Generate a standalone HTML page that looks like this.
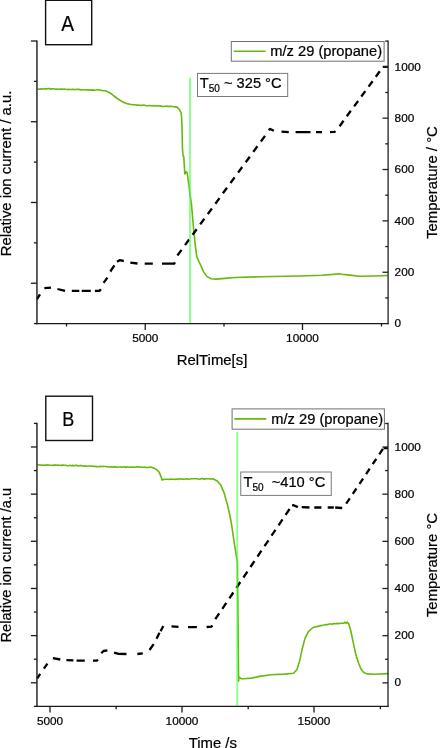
<!DOCTYPE html>
<html lang="en"><head><meta charset="utf-8"><title>Figure</title>
<style>html,body{margin:0;padding:0;background:#fff}body{width:440px;height:748px;overflow:hidden}</style></head>
<body>
<svg width="440" height="748" viewBox="0 0 440 748" style="display:block">
<rect width="440" height="748" fill="#fff"/>
<g font-family="'Liberation Sans', sans-serif" fill="#000" stroke="#000" stroke-width="0.22">
<polyline points="37.5,89.3 39.0,89.0 40.5,89.1 42.0,88.9 43.5,89.0 45.0,88.8 46.5,88.9 48.0,88.6 49.5,88.6 51.0,89.1 52.5,88.8 54.0,88.8 55.5,89.3 57.0,89.0 58.5,89.3 60.0,89.1 61.4,89.1 62.9,89.3 64.3,89.0 65.7,89.3 67.1,89.5 68.6,89.3 70.0,89.5 71.4,89.5 72.9,89.2 74.3,89.6 75.7,89.5 77.1,89.4 78.6,89.3 80.0,89.6 81.4,89.9 82.9,89.7 84.3,89.8 85.7,90.0 87.1,89.9 88.6,90.1 90.0,89.8 91.4,90.1 92.9,89.9 94.3,90.2 95.7,90.2 97.1,89.8 98.6,89.8 100.0,90.1 101.5,90.2 103.0,90.8 104.5,90.7 106.0,91.0 108.0,92.1 110.0,93.0 112.0,94.4 114.0,96.0 116.0,97.5 118.0,99.0 120.0,100.2 122.0,101.6 124.0,102.4 126.0,103.3 128.0,103.9 130.0,104.3 131.6,104.5 133.2,104.8 134.8,104.8 136.4,105.1 138.0,105.0 139.5,105.3 141.0,105.4 142.5,105.3 144.0,105.1 145.5,105.6 147.0,105.7 148.5,105.8 150.0,105.6 151.5,105.7 153.0,105.9 154.5,105.6 156.0,106.1 157.5,106.0 159.0,105.9 160.5,105.8 162.0,106.4 163.5,106.5 165.0,106.3 166.4,106.1 167.9,106.6 169.3,106.4 170.8,106.3 172.2,106.4 173.7,106.8 175.2,106.9 176.6,106.7 179.3,109.3 181.2,113.0 181.9,122.3 182.5,149.6 183.1,155.7 183.8,157.0 184.8,174.0 186.1,171.7 187.1,172.5 188.9,185.0 190.0,194.6 191.4,203.6 193.4,226.8 195.5,247.3 196.8,256.8 198.9,261.6 200.9,265.7 203.6,271.9 207.0,276.6 211.2,278.7 215.9,279.1 225.0,278.4 235.0,277.5 260.0,276.7 300.0,276.0 322.0,275.2 333.0,274.4 339.5,273.7 341.5,274.2 350.0,275.1 359.0,276.3 375.0,276.0 388.0,275.5" fill="none" stroke="#68b90e" stroke-width="1.6" stroke-linejoin="round"/>
<path d="M37.0 299.2 L40.0 294.3 M44.4 288.2 L51.0 287.6 M57.4 289.0 L65.1 290.9 M71.8 290.9 L79.3 290.9 M81.7 290.9 L90.8 290.9 M94.9 290.9 L99.6 290.8 L100.9 289.2 M103.6 282.9 L107.4 277.6 M110.3 271.5 L114.4 265.3 M117.0 261.7 L119.6 260.2 L123.8 261.0 M130.3 262.7 L137.5 263.5 M144.7 263.7 L152.8 263.7 M162.0 263.7 L174.2 263.6 L175.0 262.4 M177.4 255.5 L181.5 249.9 M185.0 245.1 L189.1 239.5 M192.6 234.8 L196.7 229.2 M200.2 224.4 L204.3 218.8 M207.8 214.1 L211.9 208.5 M215.4 203.7 L219.5 198.1 M222.9 193.3 L227.0 187.7 M230.5 183.0 L234.6 177.4 M238.1 172.6 L242.2 167.0 M245.7 162.3 L249.8 156.7 M253.3 151.9 L257.4 146.3 M260.9 141.5 L265.0 135.9 M268.6 130.2 L270.2 128.9 L273.8 130.8 M281.5 131.7 L288.8 132.1 M295.6 132.1 L310.5 132.1 M316.0 132.1 L322.0 132.1 M330.0 132.1 L334.6 131.9 L335.5 131.2 M339.6 126.2 L343.6 120.7 M346.8 116.3 L350.8 110.8 M354.1 106.4 L358.1 101.0 M361.3 96.5 L365.3 91.1 M368.6 86.6 L372.6 81.2 M375.8 76.8 L379.8 71.3 M383.0 66.8 L388.1 66.8" fill="none" stroke="#000" stroke-width="2.3" stroke-linejoin="round"/>
<line x1="190" y1="77.8" x2="190" y2="323" stroke="#40ff40" stroke-opacity="0.6" stroke-width="1.9"/>
<g stroke="#1a1a1a" stroke-width="1.3" fill="none">
<path d="M36.95 40.4 V324.2" stroke-width="1.4"/>
<path d="M36.3 323.6 H388.7"/>
<path d="M388.1 40.4 V324.2" stroke="#222" stroke-width="1.3"/>
<path d="M30.9 41.00 H36.9"/>
<path d="M33.9 81.37 H36.9"/>
<path d="M30.9 121.74 H36.9"/>
<path d="M33.9 162.11 H36.9"/>
<path d="M30.9 202.48 H36.9"/>
<path d="M33.9 242.85 H36.9"/>
<path d="M30.9 283.22 H36.9"/>
<path d="M33.9 323.59 H36.9"/>
<path d="M385.2 297.92 H388.1" stroke="#222"/>
<path d="M382.5 272.24 H388.1" stroke="#222"/>
<path d="M385.2 246.56 H388.1" stroke="#222"/>
<path d="M382.5 220.88 H388.1" stroke="#222"/>
<path d="M385.2 195.20 H388.1" stroke="#222"/>
<path d="M382.5 169.52 H388.1" stroke="#222"/>
<path d="M385.2 143.84 H388.1" stroke="#222"/>
<path d="M382.5 118.16 H388.1" stroke="#222"/>
<path d="M385.2 92.48 H388.1" stroke="#222"/>
<path d="M382.5 66.80 H388.1" stroke="#222"/>
<path d="M385.2 41.12 H388.1" stroke="#222"/>
<path d="M66.5 323.6 V326.5"/>
<path d="M145.25 323.6 V330"/>
<path d="M224 323.6 V326.5"/>
<path d="M302.5 323.6 V330"/>
<path d="M381.5 323.6 V326.5"/>
</g>
<g font-size="11.8">
<text x="394.6" y="327.40">0</text>
<text x="394.6" y="276.04">200</text>
<text x="394.6" y="224.68">400</text>
<text x="394.6" y="173.32">600</text>
<text x="394.6" y="121.96">800</text>
<text x="394.6" y="70.60">1000</text>
<text x="145.25" y="342.2" text-anchor="middle">5000</text>
<text x="302.5" y="342.2" text-anchor="middle">10000</text>
</g>
<g font-size="14.9">
<text x="212" y="364.8" text-anchor="middle">RelTime[s]</text>
<text transform="translate(11.4 173.4) rotate(-90)" text-anchor="middle">Relative ion current / a.u.</text>
<text transform="translate(436.9 182.5) rotate(-90)" text-anchor="middle">Temperature / °C</text>
</g>
<rect x="231.3" y="41.5" width="152.8" height="19.7" fill="#fff" stroke="#707070" stroke-width="1"/>
<line x1="233.75" y1="51.3" x2="265.6" y2="51.3" stroke="#68b90e" stroke-width="1.6"/>
<text x="270.3" y="56.3" font-size="14.68">m/z 29 (propane)</text>
<rect x="197.5" y="73.4" width="90.2" height="23.1" fill="#fff" stroke="#7a7a7a" stroke-width="1"/>
<text x="199.8" y="88.4" font-size="14.67">T<tspan font-size="10" dy="3.8">50</tspan><tspan dy="-3.8" font-size="14.67"> ~ 325 °C</tspan></text>
<rect x="45.6" y="0.3" width="46.1" height="44.4" fill="#fff" stroke="#111" stroke-width="1.4"/>
<text transform="translate(67.6 30.6) scale(0.9 1)" font-size="21.3" text-anchor="middle">A</text>
<polyline points="37.5,464.8 38.9,464.9 40.3,465.0 41.7,465.1 43.1,465.2 44.5,465.1 45.9,465.2 47.3,464.7 48.8,465.0 50.2,465.3 51.6,465.2 53.0,465.4 54.4,464.9 55.8,465.2 57.2,465.1 58.6,465.3 60.0,465.3 61.4,465.4 62.9,465.1 64.3,465.2 65.7,465.3 67.1,465.7 68.6,465.7 70.0,465.3 71.4,465.7 72.9,465.4 74.3,465.7 75.7,465.4 77.1,465.4 78.6,466.0 80.0,465.6 81.4,465.6 82.9,466.1 84.3,466.1 85.7,465.8 87.1,466.2 88.6,466.0 90.0,466.0 91.4,466.2 92.9,466.0 94.3,466.5 95.7,466.4 97.1,466.6 98.6,466.7 100.0,466.4 101.4,466.5 102.9,466.4 104.3,466.5 105.7,466.5 107.1,466.7 108.6,467.0 110.0,467.0 111.4,466.7 112.9,467.1 114.3,466.9 115.7,466.9 117.1,467.2 118.6,467.0 120.0,467.0 121.4,467.1 122.9,467.2 124.3,466.8 125.7,467.4 127.1,466.8 128.6,467.3 130.0,467.3 131.4,466.9 132.9,467.3 134.3,467.1 135.7,467.2 137.1,466.9 138.6,466.9 140.0,467.2 141.4,467.0 142.8,467.5 144.3,467.0 145.7,467.4 147.1,467.5 148.6,467.5 150.0,467.1 151.4,467.2 155.9,469.0 159.3,472.4 161.6,478.1 162.0,480.0 163.0,479.6 165.0,479.3 166.5,479.2 167.9,479.3 169.4,479.4 170.9,479.0 172.3,479.3 173.8,479.3 175.2,479.4 176.7,478.9 178.2,479.4 179.6,478.8 181.1,479.0 182.6,479.1 184.0,479.3 185.5,479.0 186.9,478.9 188.4,479.2 189.8,479.0 191.2,478.8 192.7,478.8 194.1,478.7 195.5,478.7 197.0,478.7 198.4,479.0 199.8,479.2 201.2,478.7 202.7,478.6 204.1,479.2 205.5,478.9 207.0,478.8 208.4,478.7 209.8,478.9 211.3,479.0 212.7,478.8 217.3,480.9 220.7,484.9 224.1,492.9 227.5,505.0 229.8,515.0 231.8,526.0 233.8,540.0 236.5,557.0 237.4,561.4 238.0,620.0 238.6,681.3 238.9,677.5 239.3,677.0 241.2,678.8 243.6,678.7 251.6,678.1 259.5,676.4 270.9,674.8 284.5,674.1 293.6,673.2 297.0,669.5 299.3,662.3 302.3,648.6 305.0,638.4 308.4,631.6 313.0,627.5 320.9,625.6 322.4,625.3 323.9,625.0 325.5,624.6 327.0,624.8 328.5,624.3 329.9,623.9 331.3,624.0 332.8,624.1 334.2,623.5 335.6,623.7 337.0,623.4 338.7,623.6 340.4,623.3 342.2,623.3 343.9,623.1 345.0,622.2 346.0,623.3 347.3,622.2 348.6,623.6 350.7,630.5 353.2,642.4 355.8,654.3 358.4,662.8 360.9,668.8 363.5,672.2 366.9,673.9 374.5,674.3 388.2,673.6" fill="none" stroke="#68b90e" stroke-width="1.6" stroke-linejoin="round"/>
<path d="M37.2 678.4 L40.2 673.9 M43.9 668.7 L47.4 663.6 M52.9 658.1 L60.3 659.5 M66.4 660.2 L73.4 660.4 M76.6 660.6 L84.8 660.6 M93.0 660.6 L97.0 660.5 L98.0 659.6 M101.3 653.3 L103.5 651.0 L107.4 650.4 M114.1 652.7 L118.6 653.8 L126.5 654.0 M137.4 654.0 L142.8 653.3 M149.5 650.0 L153.7 644.2 M156.5 638.7 L159.5 632.7 M160.6 631.3 L163.3 626.0 M171.5 626.4 L178.5 626.8 M188.0 627.2 L196.9 627.2 M206.6 627.0 L211.3 626.6 L212.5 625.5 M215.3 619.2 L219.2 613.3 M222.3 608.8 L226.3 602.9 M229.4 598.3 L233.3 592.5 M236.4 587.9 L240.3 582.0 M243.4 577.5 L247.4 571.6 M250.5 567.0 L254.4 561.2 M257.5 556.6 L261.4 550.7 M264.5 546.2 L268.5 540.3 M271.5 535.7 L275.5 529.9 M278.6 525.3 L282.5 519.4 M285.6 514.9 L289.6 509.0 M292.1 505.3 L293.6 505.2 L297.8 507.1 M301.7 507.2 L309.5 507.5 M314.3 507.5 L321.4 507.5 M327.7 507.5 L333.8 507.5 M335.2 507.5 L342.2 508.0 M346.2 503.7 L349.8 498.3 M352.8 493.8 L356.4 488.5 M359.5 483.9 L363.1 478.6 M366.1 474.1 L369.7 468.7 M372.7 464.2 L376.3 458.8 M379.3 454.3 L382.9 448.9 M383.6 448.2 L388.0 448.2" fill="none" stroke="#000" stroke-width="2.3" stroke-linejoin="round"/>
<line x1="237.2" y1="431.7" x2="237.2" y2="705.8" stroke="#40ff40" stroke-opacity="0.6" stroke-width="1.8"/>
<g stroke="#1a1a1a" stroke-width="1.3" fill="none">
<path d="M36.95 422.8 V707" stroke-width="1.4"/>
<path d="M36.3 706.4 H388.6"/>
<path d="M388.0 422.8 V707" stroke="#222" stroke-width="1.3"/>
<path d="M33.9 423.40 H36.9"/>
<path d="M30.9 446.98 H36.9"/>
<path d="M33.9 470.56 H36.9"/>
<path d="M30.9 494.14 H36.9"/>
<path d="M33.9 517.72 H36.9"/>
<path d="M30.9 541.30 H36.9"/>
<path d="M33.9 564.88 H36.9"/>
<path d="M30.9 588.46 H36.9"/>
<path d="M33.9 612.04 H36.9"/>
<path d="M30.9 635.62 H36.9"/>
<path d="M33.9 659.20 H36.9"/>
<path d="M30.9 682.78 H36.9"/>
<path d="M33.9 706.36 H36.9"/>
<path d="M382.4 682.85 H388.0" stroke="#222"/>
<path d="M385.1 659.26 H388.0" stroke="#222"/>
<path d="M382.4 635.68 H388.0" stroke="#222"/>
<path d="M385.1 612.10 H388.0" stroke="#222"/>
<path d="M382.4 588.51 H388.0" stroke="#222"/>
<path d="M385.1 564.92 H388.0" stroke="#222"/>
<path d="M382.4 541.34 H388.0" stroke="#222"/>
<path d="M385.1 517.75 H388.0" stroke="#222"/>
<path d="M382.4 494.17 H388.0" stroke="#222"/>
<path d="M385.1 470.59 H388.0" stroke="#222"/>
<path d="M382.4 447.00 H388.0" stroke="#222"/>
<path d="M385.1 423.50 H388.0" stroke="#222"/>
<path d="M50 706.4 V712.6"/>
<path d="M116.1 706.4 V709.2"/>
<path d="M182 706.4 V712.6"/>
<path d="M248.2 706.4 V709.2"/>
<path d="M314 706.4 V712.6"/>
<path d="M380.4 706.4 V709.2"/>
</g>
<g font-size="11.8">
<text x="394.6" y="686.45">0</text>
<text x="394.6" y="639.28">200</text>
<text x="394.6" y="592.11">400</text>
<text x="394.6" y="544.94">600</text>
<text x="394.6" y="497.77">800</text>
<text x="394.6" y="450.60">1000</text>
<text x="50" y="724.9" text-anchor="middle">5000</text>
<text x="182" y="724.9" text-anchor="middle">10000</text>
<text x="314" y="724.9" text-anchor="middle">15000</text>
</g>
<g font-size="14.9">
<text x="212.8" y="747.6" text-anchor="middle">Time /s</text>
<text transform="translate(11.4 565.2) rotate(-90)" text-anchor="middle" font-size="14.65">Relative ion current /a.u</text>
<text transform="translate(436.9 565) rotate(-90)" text-anchor="middle" font-size="14.85">Temperature °C</text>
</g>
<rect x="232.1" y="408.9" width="152.3" height="20.3" fill="#fff" stroke="#707070" stroke-width="1"/>
<line x1="234.25" y1="418.9" x2="266.3" y2="418.9" stroke="#68b90e" stroke-width="1.6"/>
<text x="271.3" y="423.8" font-size="14.68">m/z 29 (propane)</text>
<rect x="240.75" y="472" width="90.5" height="23.4" fill="#fff" stroke="#7a7a7a" stroke-width="1"/>
<text x="243.5" y="487" font-size="14.67" xml:space="preserve">T<tspan font-size="10" dy="3.8">50</tspan><tspan dy="-3.8" font-size="14.67">  ~410 °C</tspan></text>
<rect x="45.8" y="396.2" width="46.7" height="44.3" fill="#fff" stroke="#111" stroke-width="1.4"/>
<text transform="translate(68.3 426.1) scale(0.86 1)" font-size="21" text-anchor="middle">B</text>
</g></svg>
</body></html>
